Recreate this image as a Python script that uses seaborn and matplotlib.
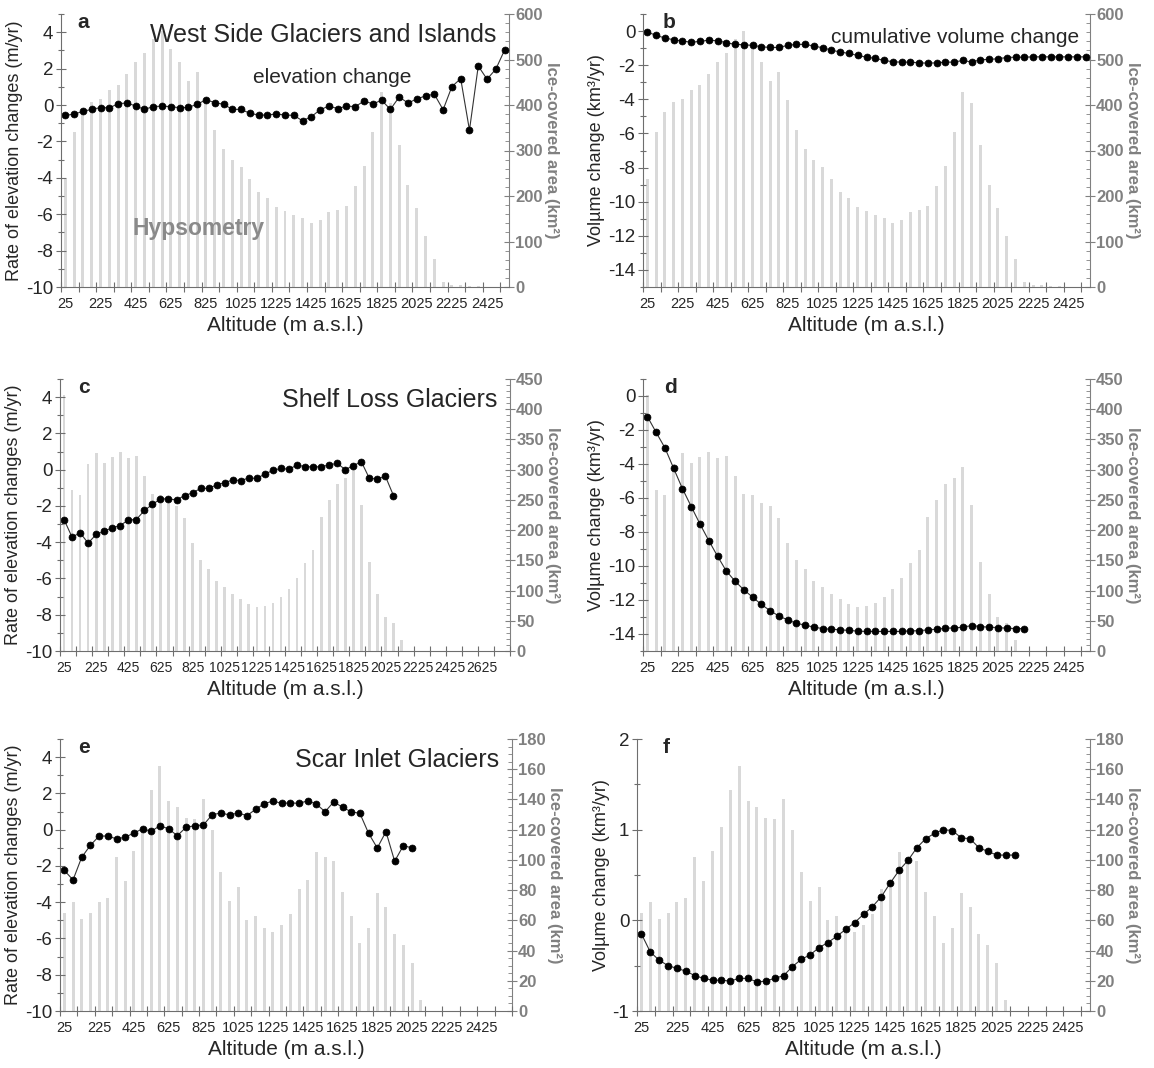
import numpy as np
import seaborn as sns
import matplotlib.pyplot as plt
from matplotlib.ticker import FixedLocator, MultipleLocator

# altitude bin centres (m a.s.l.), 50 m bins
altitude = list(range(25, 2800, 50))

# West Side Glaciers and Islands
area_wsg = [238, 341, 385, 406, 413, 433, 445, 469, 494, 515,
            545, 562, 522, 494, 453, 472, 412, 345, 304, 280,
            264, 237, 209, 195, 176, 166, 159, 151, 140, 148,
            165, 169, 179, 222, 266, 340, 428, 405, 313, 224,
            174, 112, 62, 11, 5, 4, 3, 2, 1, 0, 0]
elev_wsg = [-0.57, -0.50, -0.35, -0.24, -0.14, -0.15, 0.06, 0.12, -0.06, -0.24,
            -0.09, -0.06, -0.09, -0.15, -0.13, 0.04, 0.29, 0.13, 0.04, -0.24,
            -0.24, -0.46, -0.55, -0.55, -0.49, -0.55, -0.57, -0.87, -0.64, -0.26,
            -0.06, -0.20, -0.06, -0.09, 0.22, 0.06, 0.26, -0.24, 0.44, 0.11,
            0.33, 0.50, 0.59, -0.26, 1.01, 1.45, -1.38, 2.14, 1.42, 1.97, 3.02]
vol_wsg = [-0.06, -0.25, -0.41, -0.51, -0.59, -0.65, -0.61, -0.53, -0.57, -0.68,
           -0.78, -0.80, -0.84, -0.92, -0.96, -0.96, -0.84, -0.78, -0.78, -0.88,
           -0.98, -1.12, -1.23, -1.31, -1.43, -1.53, -1.60, -1.72, -1.80, -1.82,
           -1.82, -1.86, -1.88, -1.86, -1.82, -1.82, -1.72, -1.82, -1.68, -1.66,
           -1.62, -1.55, -1.53, -1.53, -1.51, -1.51, -1.51, -1.51, -1.51, -1.51, -1.51]

# Shelf Loss Glaciers
area_slg = [423, 266, 258, 309, 327, 311, 321, 330, 320, 323,
            290, 259, 258, 245, 240, 220, 179, 150, 135, 116,
            106, 95, 86, 78, 72, 75, 80, 90, 102, 120,
            145, 167, 222, 249, 276, 287, 304, 241, 147, 95,
            57, 47, 19]
elev_slg = [-2.75, -3.72, -3.48, -4.05, -3.57, -3.39, -3.21, -3.08, -2.77, -2.75,
            -2.25, -1.92, -1.61, -1.61, -1.67, -1.43, -1.28, -1.03, -1.03, -0.84,
            -0.71, -0.57, -0.60, -0.46, -0.48, -0.24, -0.04, 0.07, 0.02, 0.26,
            0.16, 0.16, 0.16, 0.26, 0.35, 0.00, 0.22, 0.44, -0.48, -0.51,
            -0.37, -1.43]
vol_slg = [-1.21, -2.14, -3.05, -4.26, -5.45, -6.50, -7.53, -8.50, -9.42, -10.29,
           -10.89, -11.40, -11.83, -12.26, -12.63, -12.94, -13.17, -13.37, -13.48, -13.60,
           -13.68, -13.72, -13.75, -13.79, -13.83, -13.85, -13.85, -13.85, -13.85, -13.85,
           -13.81, -13.81, -13.75, -13.72, -13.66, -13.64, -13.60, -13.50, -13.56, -13.60,
           -13.62, -13.66, -13.68, -13.68]

# Scar Inlet Glaciers
area_sig = [65, 72, 61, 65, 72, 75, 102, 86, 106, 122,
            146, 162, 139, 135, 128, 127, 140, 120, 92, 73,
            82, 60, 63, 55, 52, 57, 64, 81, 87, 105,
            102, 99, 79, 63, 45, 55, 78, 69, 51, 44,
            32, 7]
elev_sig = [-2.25, -2.77, -1.52, -0.86, -0.35, -0.35, -0.51, -0.42, -0.18, 0.04,
            -0.09, 0.22, 0.04, -0.33, 0.13, 0.22, 0.26, 0.82, 0.92, 0.81,
            0.92, 0.77, 1.12, 1.43, 1.58, 1.45, 1.48, 1.45, 1.59, 1.41,
            0.99, 1.54, 1.23, 0.99, 0.90, -0.20, -1.01, -0.11, -1.74, -0.88,
            -1.01]
vol_sig = [-0.15, -0.35, -0.44, -0.50, -0.53, -0.56, -0.61, -0.64, -0.66, -0.66,
           -0.67, -0.64, -0.64, -0.68, -0.67, -0.64, -0.61, -0.51, -0.43, -0.38,
           -0.30, -0.245, -0.175, -0.10, -0.025, 0.066, 0.15, 0.26, 0.41, 0.55,
           0.66, 0.80, 0.90, 0.96, 1.00, 0.99, 0.91, 0.90, 0.80, 0.76,
           0.72, 0.72, 0.72]

ylab_elev = 'Rate of elevation changes (m/yr)'
ylab_vol = 'Volµme change (km³/yr)'
ylab_area = 'Ice-covered area (km²)'
xlab = 'Altitude (m a.s.l.)'

sns.set_style('ticks')
plt.rcParams['font.family'] = ['Liberation Sans', 'DejaVu Sans']
plt.rcParams['axes.unicode_minus'] = False

W, H = 1154, 1068
GRAY = '#808080'
SPINE = '#6e6e6e'
BAR = '#d9d9d9'

fig = plt.figure(figsize=(W / 100, H / 100), dpi=100)


def panel(px, letter, area, vals, nbins, ylim, yticks, yminor, amax, astep, aminor,
          ylabel, xlast=2425, xsize=10.5, letter_dx=18, title=None):
    l, r, t, b = px
    w, h = r - l, b - t
    ax = fig.add_axes([l / W, 1 - b / H, w / W, h / H])
    ax2 = ax.twinx()

    sns.barplot(x=altitude[:len(area)], y=area, ax=ax2, native_scale=True, color=BAR,
                saturation=1, width=0.34, errorbar=None, linewidth=0, edgecolor='none')
    sns.lineplot(x=altitude[:len(vals)], y=vals, ax=ax, color='#333333', linewidth=0.8,
                 marker='o', markersize=5, markerfacecolor='black',
                 markeredgecolor='black', markeredgewidth=0.5)
    ax.set_zorder(ax2.get_zorder() + 1)
    ax.patch.set_visible(False)

    ax.set_xlim(0, 50 * nbins)
    ax.set_xticks(list(range(25, xlast + 1, 200)))
    ax.xaxis.set_minor_locator(FixedLocator(list(range(0, 50 * nbins + 1, 100))))
    ax.tick_params(axis='x', which='major', length=0, pad=7, labelsize=xsize)
    ax.tick_params(axis='x', which='minor', length=7, direction='inout', color=SPINE, width=0.8)

    ax.set_ylim(*ylim)
    ax.set_yticks(yticks)
    ax.yaxis.set_minor_locator(MultipleLocator(yminor))
    ax.tick_params(axis='y', which='major', length=7, direction='inout', color=SPINE,
                   width=0.8, labelsize=13.5, pad=2)
    ax.tick_params(axis='y', which='minor', length=4, direction='inout', color=SPINE, width=0.8)

    ax2.set_ylim(0, amax)
    ax2.set_yticks(list(range(0, amax + 1, astep)))
    ax2.yaxis.set_minor_locator(MultipleLocator(aminor))
    ax2.tick_params(axis='y', which='major', length=7, direction='inout', color=GRAY,
                    width=0.8, labelsize=12, labelcolor=GRAY, pad=1)
    ax2.tick_params(axis='y', which='minor', length=3, direction='in', color=GRAY, width=0.6)
    for lab in ax2.get_yticklabels():
        lab.set_fontweight('bold')

    for s in ['top', 'right']:
        ax.spines[s].set_visible(False)
    for s in ['top', 'left', 'bottom']:
        ax2.spines[s].set_visible(False)
    ax.spines['left'].set_color(SPINE)
    ax.spines['bottom'].set_color(SPINE)
    ax2.spines['right'].set_color(GRAY)
    for sp in [ax.spines['left'], ax.spines['bottom'], ax2.spines['right']]:
        sp.set_linewidth(0.8)

    ax.set_ylabel(ylabel, fontsize=13, labelpad=2)
    ax.set_xlabel(xlab, fontsize=15, labelpad=4)
    ax2.set_ylabel(ylab_area, fontsize=12, fontweight='bold', color=GRAY,
                   rotation=270, va='bottom', labelpad=1)

    ax.text(letter_dx / w, 1 - 14 / h, letter, transform=ax.transAxes,
            fontsize=15, fontweight='bold', va='baseline')
    if title:
        ax.text(1 - 13 / w, 1 - 28 / h, title, transform=ax.transAxes,
                fontsize=18, ha='right', va='baseline')
    return ax, w, h


ax, w, h = panel((61, 509, 14, 287), 'a', area_wsg, elev_wsg, 51, (-10, 5),
                 list(range(-10, 5, 2)), 1, 600, 100, 20, ylab_elev,
                 letter_dx=16, title='West Side Glaciers and Islands')
ax.text((253 - 61) / w, 1 - (83 - 14) / h, 'elevation change', transform=ax.transAxes,
        fontsize=15, va='baseline')
ax.text((132 - 61) / w, 1 - (235 - 14) / h, 'Hypsometry', transform=ax.transAxes,
        fontsize=16.5, fontweight='bold', color='#8a8a8a', va='baseline')

ax, w, h = panel((643, 1090, 14, 287), 'b', area_wsg, vol_wsg, 51, (-15, 1),
                 list(range(-14, 1, 2)), 1, 600, 100, 20, ylab_vol, letter_dx=20)
ax.text((831 - 643) / w, 1 - (43 - 14) / h, 'cumulative volume change',
        transform=ax.transAxes, fontsize=15, va='baseline')

panel((60, 510, 379, 651), 'c', area_slg, elev_slg, 56, (-10, 5),
      list(range(-10, 5, 2)), 1, 450, 50, 10, ylab_elev, xlast=2625, xsize=10,
      letter_dx=18, title='Shelf Loss Glaciers')

panel((643, 1090, 379, 651), 'd', area_slg, vol_slg, 51, (-15, 1),
      list(range(-14, 1, 2)), 1, 450, 50, 10, ylab_vol, letter_dx=21)

panel((60, 512, 739, 1011), 'e', area_sig, elev_sig, 52, (-10, 5),
      list(range(-10, 5, 2)), 1, 180, 20, 5, ylab_elev, letter_dx=18,
      title='Scar Inlet Glaciers')

panel((637, 1090, 739, 1011), 'f', area_sig, vol_sig, 51, (-1, 2),
      [-1, 0, 1, 2], 0.5, 180, 20, 5, ylab_vol, letter_dx=26)

fig.savefig('out.png', dpi=100)
